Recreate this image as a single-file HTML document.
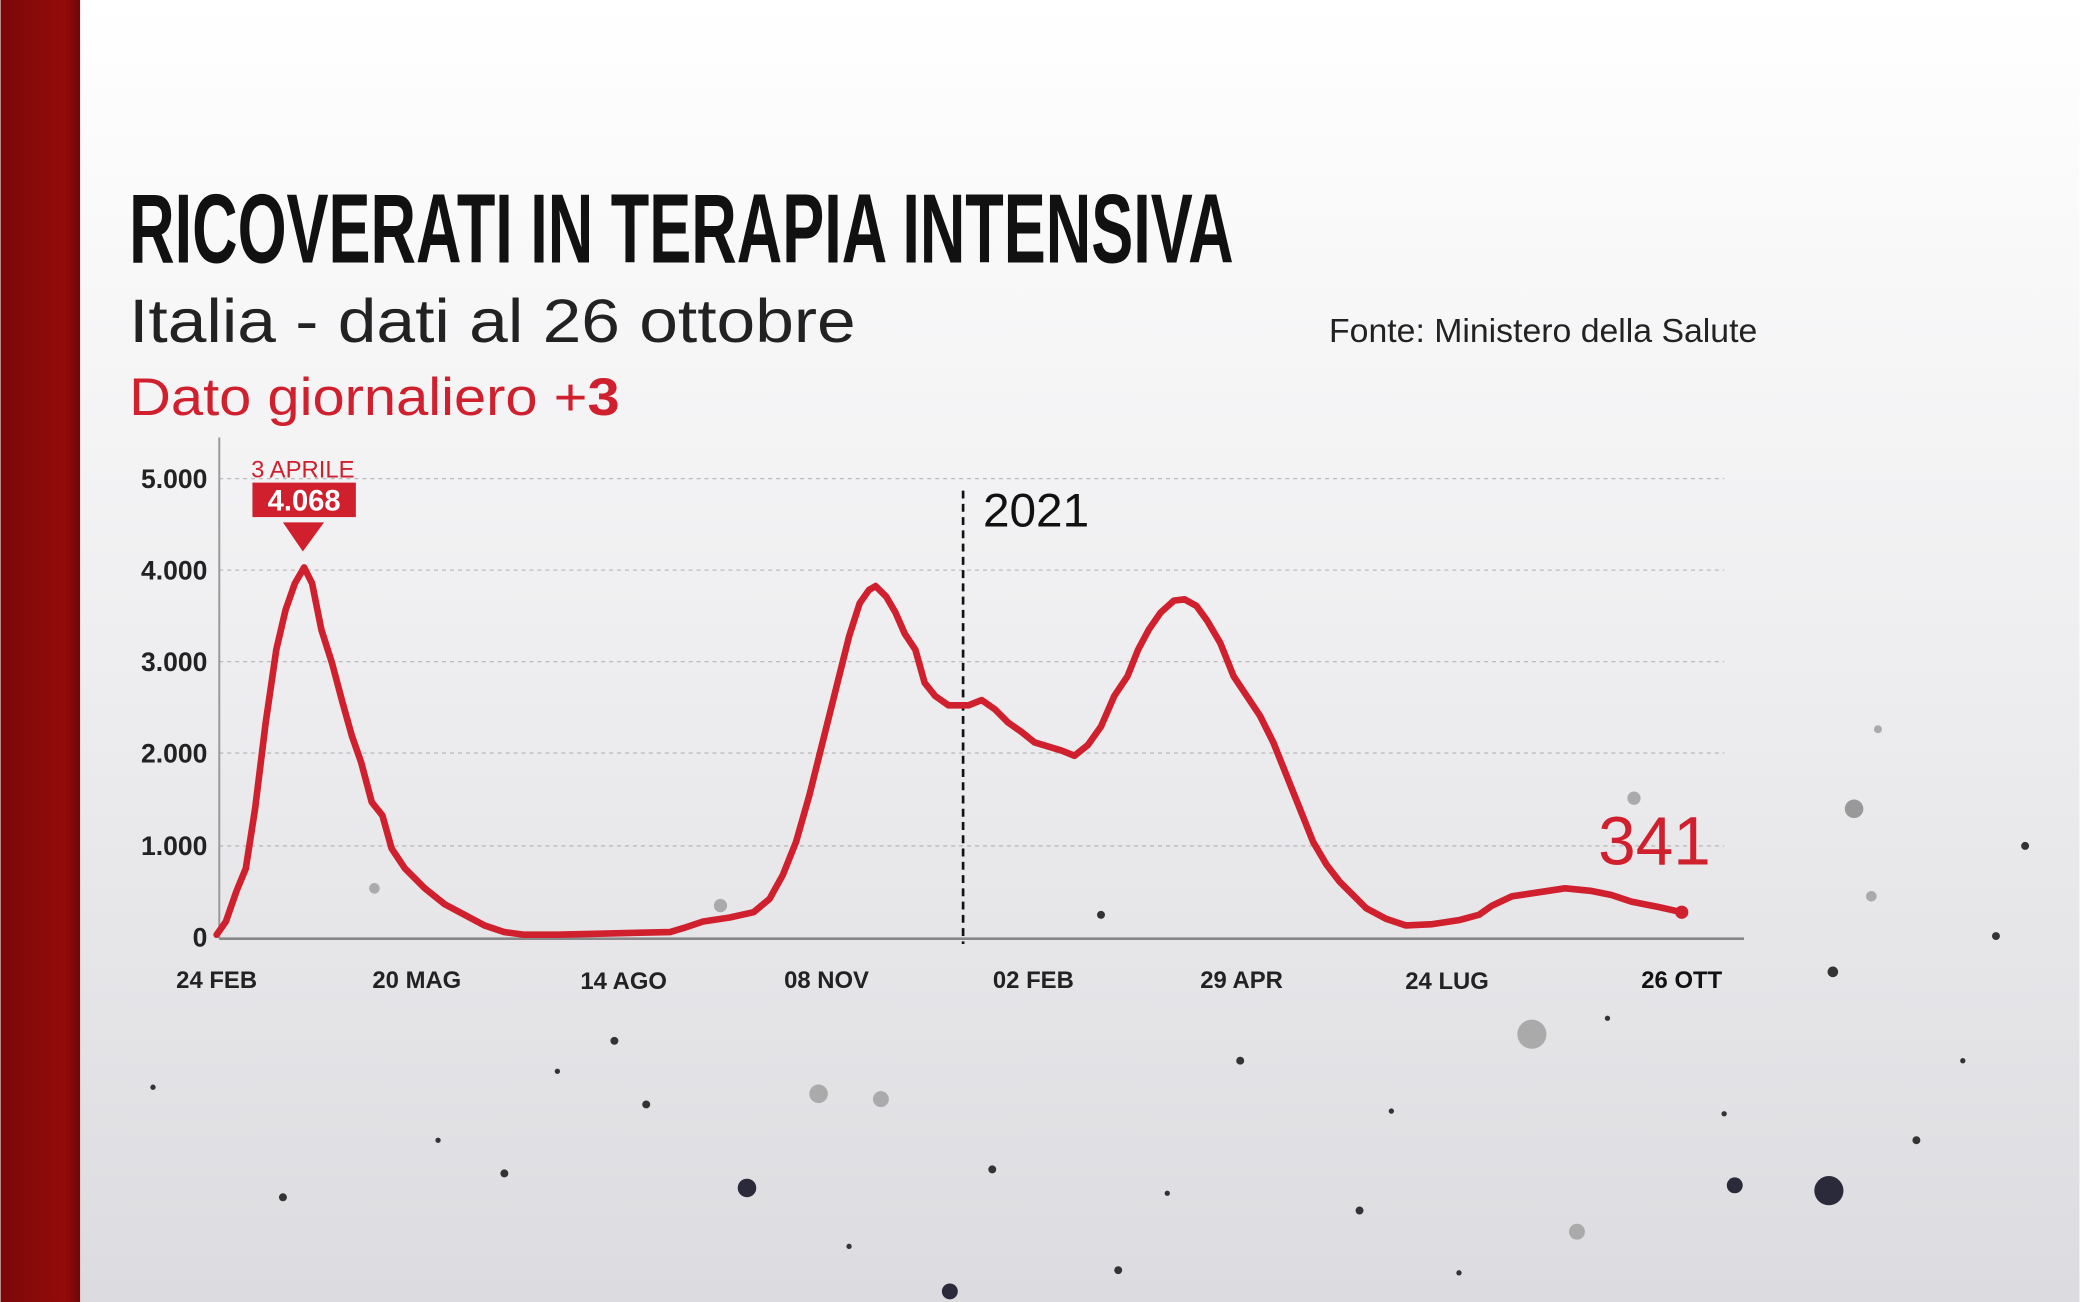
<!DOCTYPE html>
<html><head><meta charset="utf-8"><style>
html,body{margin:0;padding:0;width:2080px;height:1302px;overflow:hidden}
svg{display:block}
text{font-family:"Liberation Sans",sans-serif}
</style></head><body>
<svg width="2080" height="1302" viewBox="0 0 1568 982" xmlns="http://www.w3.org/2000/svg">
<defs>
<linearGradient id="bg" x1="0" y1="0" x2="0" y2="1">
<stop offset="0" stop-color="#ffffff"/><stop offset="0.5" stop-color="#eeeef0"/><stop offset="1" stop-color="#dcdce0"/>
</linearGradient>
<linearGradient id="rb" x1="0" y1="0" x2="1" y2="0">
<stop offset="0" stop-color="#7a0808"/><stop offset="0.8" stop-color="#940b0b"/><stop offset="1" stop-color="#6e0606"/>
</linearGradient>
</defs>
<rect width="1568" height="982" fill="url(#bg)"/>
<rect width="60" height="982" fill="url(#rb)"/>
<g fill="#333">
<circle cx="1398" cy="610" r="7" fill="#999"/><circle cx="1155" cy="780" r="11" fill="#aaa"/>
<circle cx="617" cy="825" r="7" fill="#aaa"/><circle cx="664" cy="829" r="6" fill="#aaa"/>
<circle cx="563" cy="896" r="7" fill="#2a2a3a"/><circle cx="1308" cy="894" r="6" fill="#2a2a3a"/>
<circle cx="1379" cy="898" r="11" fill="#2a2a3a"/><circle cx="716" cy="974" r="6" fill="#2a2a3a"/>
<circle cx="1189" cy="929" r="6" fill="#aaa"/><circle cx="1382" cy="733" r="4"/>
<circle cx="543" cy="683" r="5" fill="#aaa"/><circle cx="282" cy="670" r="4" fill="#aaa"/>
<circle cx="1411" cy="676" r="4" fill="#aaa"/><circle cx="1527" cy="638" r="3"/>
<circle cx="1505" cy="706" r="3"/><circle cx="830" cy="690" r="3"/><circle cx="463" cy="785" r="3"/>
<circle cx="487" cy="833" r="3"/><circle cx="213" cy="903" r="3"/><circle cx="1025" cy="913" r="3"/>
<circle cx="1232" cy="602" r="5" fill="#aaa"/><circle cx="748" cy="882" r="3"/><circle cx="843" cy="958" r="3"/>
<circle cx="1445" cy="860" r="3"/><circle cx="380" cy="885" r="3"/><circle cx="935" cy="800" r="3"/>
<circle cx="1416" cy="550" r="3" fill="#aaa"/><circle cx="1212" cy="768" r="2"/><circle cx="1049" cy="838" r="2"/>
<circle cx="330" cy="860" r="2"/><circle cx="420" cy="808" r="2"/><circle cx="1300" cy="840" r="2"/>
<circle cx="1480" cy="800" r="2"/><circle cx="880" cy="900" r="2"/><circle cx="640" cy="940" r="2"/>
<circle cx="115" cy="820" r="2"/><circle cx="1100" cy="960" r="2"/>
</g>
<text x="97" y="198" font-family="'Liberation Sans Narrow','Liberation Sans',sans-serif" font-weight="bold" font-size="74" textLength="833" lengthAdjust="spacingAndGlyphs" fill="#111">RICOVERATI IN TERAPIA INTENSIVA</text>
<text x="97" y="258" font-size="46" textLength="548" lengthAdjust="spacingAndGlyphs" fill="#222">Italia - dati al 26 ottobre</text>
<text x="97" y="313" font-size="40" textLength="370" lengthAdjust="spacingAndGlyphs" fill="#d0202e">Dato giornaliero +<tspan font-weight="bold">3</tspan></text>
<text x="1002" y="258" font-size="25" textLength="323" lengthAdjust="spacingAndGlyphs" fill="#222">Fonte: Ministero della Salute</text>
<g stroke="#bbb" stroke-width="1" stroke-dasharray="3,3">
<line x1="165" y1="361" x2="1300" y2="361"/><line x1="165" y1="430" x2="1300" y2="430"/>
<line x1="165" y1="499" x2="1300" y2="499"/><line x1="165" y1="568" x2="1300" y2="568"/>
<line x1="165" y1="638" x2="1300" y2="638"/>
</g>
<line x1="165" y1="330" x2="165" y2="708" stroke="#999" stroke-width="1.5"/>
<line x1="165" y1="708" x2="1315" y2="708" stroke="#888" stroke-width="2"/>
<g font-size="20" fill="#222" text-anchor="end" font-weight="bold">
<text x="156" y="368">5.000</text><text x="156" y="437">4.000</text><text x="156" y="506">3.000</text>
<text x="156" y="575">2.000</text><text x="156" y="645">1.000</text><text x="156" y="714">0</text>
</g>
<g font-size="18" fill="#222" text-anchor="middle" font-weight="bold">
<text x="163" y="745">24 FEB</text><text x="314" y="745">20 MAG</text><text x="470" y="746">14 AGO</text>
<text x="623" y="745">08 NOV</text><text x="779" y="745">02 FEB</text><text x="936" y="745">29 APR</text>
<text x="1091" y="746">24 LUG</text><text x="1268" y="745" fill="#111">26 OTT</text>
</g>
<line x1="726" y1="370" x2="726" y2="712" stroke="#111" stroke-width="2" stroke-dasharray="6,4"/>
<text x="741" y="397" font-size="36" fill="#111">2021</text>
<text x="228" y="360" font-size="18" fill="#d0202e" text-anchor="middle">3 APRILE</text>
<rect x="190" y="364" width="78" height="26" fill="#d0202e"/>
<text x="229" y="385" font-size="22" font-weight="bold" fill="#fff" text-anchor="middle">4.068</text>
<polygon points="213,394 244,394 228,416" fill="#d0202e"/>
<polyline fill="none" stroke="#d0202e" stroke-width="5" stroke-linejoin="round" stroke-linecap="round" points="163,705 170,695 178,672 185,655 192,610 200,545 208,490 215,460 222,440 229,428 235,440 242,475 250,500 258,530 265,555 272,575 280,605 288,615 295,640 305,655 320,670 335,682 350,690 365,698 380,703 395,705 420,705 460,704 505,703 515,700 530,695 550,692 568,688 580,678 590,660 600,635 610,600 620,560 630,520 640,480 648,455 655,445 660,442 668,450 675,462 682,478 690,490 697,515 705,525 715,532 730,532 740,528 750,535 760,545 770,552 780,560 790,563 800,566 810,570 820,562 830,548 840,525 850,510 858,490 866,475 875,462 885,453 893,452 902,457 910,468 920,485 930,510 940,525 950,540 960,560 970,585 980,610 990,635 1000,652 1010,665 1020,675 1030,685 1045,693 1060,698 1080,697 1100,694 1115,690 1125,683 1140,676 1160,673 1180,670 1200,672 1215,675 1230,680 1250,684 1268,688"/>
<circle cx="1268" cy="688" r="5" fill="#d0202e"/>
<text x="1205" y="652" font-size="52" fill="#d0202e" textLength="85" lengthAdjust="spacingAndGlyphs">341</text>
</svg>
</body></html>
